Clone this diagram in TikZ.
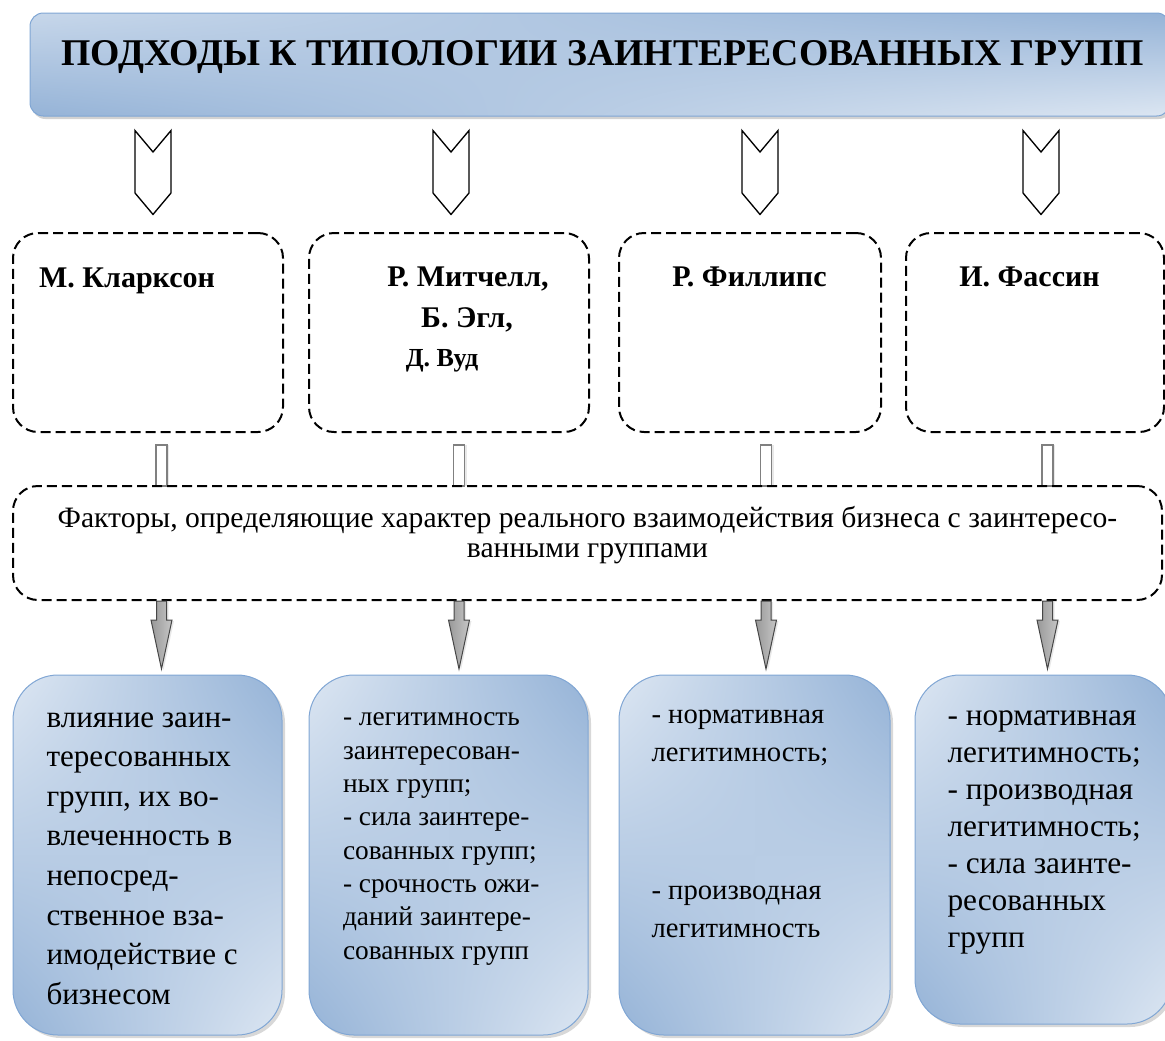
\documentclass[tikz,border=0pt]{standalone}
\usepackage{fontspec}
\setmainfont{Liberation Serif}[BoldFont={Liberation Serif Bold}]
\usetikzlibrary{shapes.symbols,shadows,shadings}

\definecolor{paleblue}{RGB}{220,230,242}
\definecolor{deepblue}{RGB}{149,179,215}
\definecolor{rimblue}{RGB}{128,166,212}

\tikzset{every picture/.style={line width=0.75pt}}
\tikzset{
  titlebox/.style={rounded corners=10pt, draw=rimblue, upper left=paleblue!70!deepblue, upper right=deepblue, lower left=deepblue, lower right=paleblue, minimum width=855pt, minimum height=77.25pt, inner sep=0pt, drop shadow={shadow xshift=1.5pt, shadow yshift=-2.25pt, fill=gray!70}},
  titlefont/.style={font=\fontsize{28.3pt}{32pt}\selectfont\bfseries},
  hollowarrow/.style={signal, signal from=north, signal to=south, signal pointer angle=80, draw, line width=1pt, fill=white, minimum width=27pt, minimum height=30.75pt, inner sep=0pt},
  namebox/.style={draw, line width=1.5pt, dash pattern=on 7.5pt off 3.75pt, rounded corners=18.75pt, inner sep=0pt},
  namefont/.style={font=\fontsize{22.5pt}{27pt}\selectfont\bfseries},
  linkbar/.style={draw=gray, line width=1pt, fill=white, minimum width=8.25pt, minimum height=30.75pt, inner sep=0pt, drop shadow={shadow xshift=1.5pt, shadow yshift=0pt, fill=gray!35}},
  factfont/.style={font=\fontsize{22.2pt}{22.5pt}\selectfont},
  greyarrow/.style={left color=gray!80, right color=gray!45, draw=gray!55!black, drop shadow={shadow xshift=1.5pt, shadow yshift=-0.75pt, fill=gray!35}},
  itembox/.style={rounded corners=33.75pt, draw=rimblue, upper left=paleblue, upper right=deepblue, lower left=deepblue, lower right=paleblue, inner sep=0pt, drop shadow={shadow xshift=2.25pt, shadow yshift=-2.25pt, fill=gray!60}},
}

\begin{document}
\begin{tikzpicture}[x=0.75pt,y=0.75pt,yscale=-1,xscale=1]
\useasboundingbox (0,0) rectangle (1165,1040);

%Rounded Rect: heading
\node [titlebox] (head) at (600,64.5) {};
% Text Node
\node [titlefont, anchor=base, inner sep=0pt] (headtext) at (602.5,65) {ПОДХОДЫ К ТИПОЛОГИИ ЗАИНТЕРЕСОВАННЫХ ГРУПП};

%Shape: Signal arrows
\node [hollowarrow] (sig1) at (153,172.5) {};
\node [hollowarrow] (sig2) at (451,172.5) {};
\node [hollowarrow] (sig3) at (760,172.5) {};
\node [hollowarrow] (sig4) at (1041,172.5) {};

%Rounded Rect: author boxes
\node [namebox, minimum width=202.5pt, minimum height=149.25pt] (clark) at (148,332.5) {};
\node [namebox, minimum width=210pt, minimum height=149.25pt] (mitch) at (449,332.5) {};
\node [namebox, minimum width=196.5pt, minimum height=149.25pt] (phil) at (750,332.5) {};
\node [namebox, minimum width=193.5pt, minimum height=149.25pt] (fass) at (1035,332.5) {};

% Text Node
\node [namefont, anchor=base, inner sep=0pt] (clarkname) at (127,287) {М. Кларксон};
% Text Node
\node [namefont, anchor=base, inner sep=0pt] (mitchname) at (468,286) {Р. Митчелл,};
% Text Node
\node [namefont, anchor=base, inner sep=0pt] (eglname) at (467,327) {Б. Эгл,};
% Text Node
\node [font=\fontsize{19.5pt}{23pt}\selectfont\bfseries, anchor=base, inner sep=0pt] (woodname) at (442,366) {Д. Вуд};
% Text Node
\node [namefont, anchor=base, inner sep=0pt] (philname) at (749.5,286) {Р. Филлипс};
% Text Node
\node [namefont, anchor=base, inner sep=0pt] (fassname) at (1029.5,286) {И. Фассин};

%Shape: Rectangle links
\node [linkbar] (bar1) at (161.5,465.5) {};
\node [linkbar] (bar2) at (459,465.5) {};
\node [linkbar] (bar3) at (766,465.5) {};
\node [linkbar] (bar4) at (1047.5,465.5) {};

%Rounded Rect: factors
\node [namebox, minimum width=861.75pt, minimum height=85.5pt] (factors) at (587.5,543) {};
% Text Node
\node [factfont, align=center, inner sep=0pt] (factext) at (587.5,535) {Факторы, определяющие характер реального взаимодействия бизнеса с заинтересо-\\ванными группами};

%Shape: Down Arrow
\draw [greyarrow, shift={(bar1 |- factors.south)}] (-5,0) -- (-5,19) -- (-10.5,19) -- (0,68) -- (10.5,19) -- (5,19) -- (5,0) -- cycle;
\draw [greyarrow, shift={(bar2 |- factors.south)}] (-5,0) -- (-5,19) -- (-10.5,19) -- (0,68) -- (10.5,19) -- (5,19) -- (5,0) -- cycle;
\draw [greyarrow, shift={(bar3 |- factors.south)}] (-5,0) -- (-5,19) -- (-10.5,19) -- (0,68) -- (10.5,19) -- (5,19) -- (5,0) -- cycle;
\draw [greyarrow, shift={(bar4 |- factors.south)}] (-5,0) -- (-5,19) -- (-10.5,19) -- (0,68) -- (10.5,19) -- (5,19) -- (5,0) -- cycle;

%Rounded Rect: results
\node [itembox, minimum width=201.75pt, minimum height=270pt] (res1) at (147.5,855) {};
\node [itembox, minimum width=209.25pt, minimum height=270pt] (res2) at (448.5,855) {};
\node [itembox, minimum width=203.25pt, minimum height=270pt] (res3) at (754.5,855) {};
\node [itembox, minimum width=192.75pt, minimum height=261.75pt] (res4) at (1043.5,849.5) {};

% Text Node
\node [font=\fontsize{23.3pt}{29.7pt}\selectfont, align=left, anchor=base west, inner sep=0pt] (restext1) at (46,1004.2) {влияние заин-\\тересованных\\групп, их во-\\влеченность в\\непосред-\\ственное вза-\\имодействие с\\бизнесом};
% Text Node
\node [font=\fontsize{20.5pt}{25pt}\selectfont, align=left, anchor=base west, inner sep=0pt] (restext2) at (342.5,959.3) {- легитимность\\заинтересован-\\ных групп;\\- сила заинтере-\\сованных групп;\\- срочность ожи-\\даний заинтере-\\сованных групп};
% Text Node
\node [font=\fontsize{21.5pt}{28pt}\selectfont, align=left, anchor=base west, inner sep=0pt] (restext3a) at (651,761) {- нормативная\\легитимность;};
% Text Node
\node [font=\fontsize{21.5pt}{28pt}\selectfont, align=left, anchor=base west, inner sep=0pt] (restext3b) at (651,937) {- производная\\легитимность};
% Text Node
\node [font=\fontsize{23.5pt}{27.75pt}\selectfont, align=left, anchor=base west, inner sep=0pt] (restext4) at (947,947) {- нормативная\\легитимность;\\- производная\\легитимность;\\- сила заинте-\\ресованных\\групп};

\end{tikzpicture}
\end{document}
